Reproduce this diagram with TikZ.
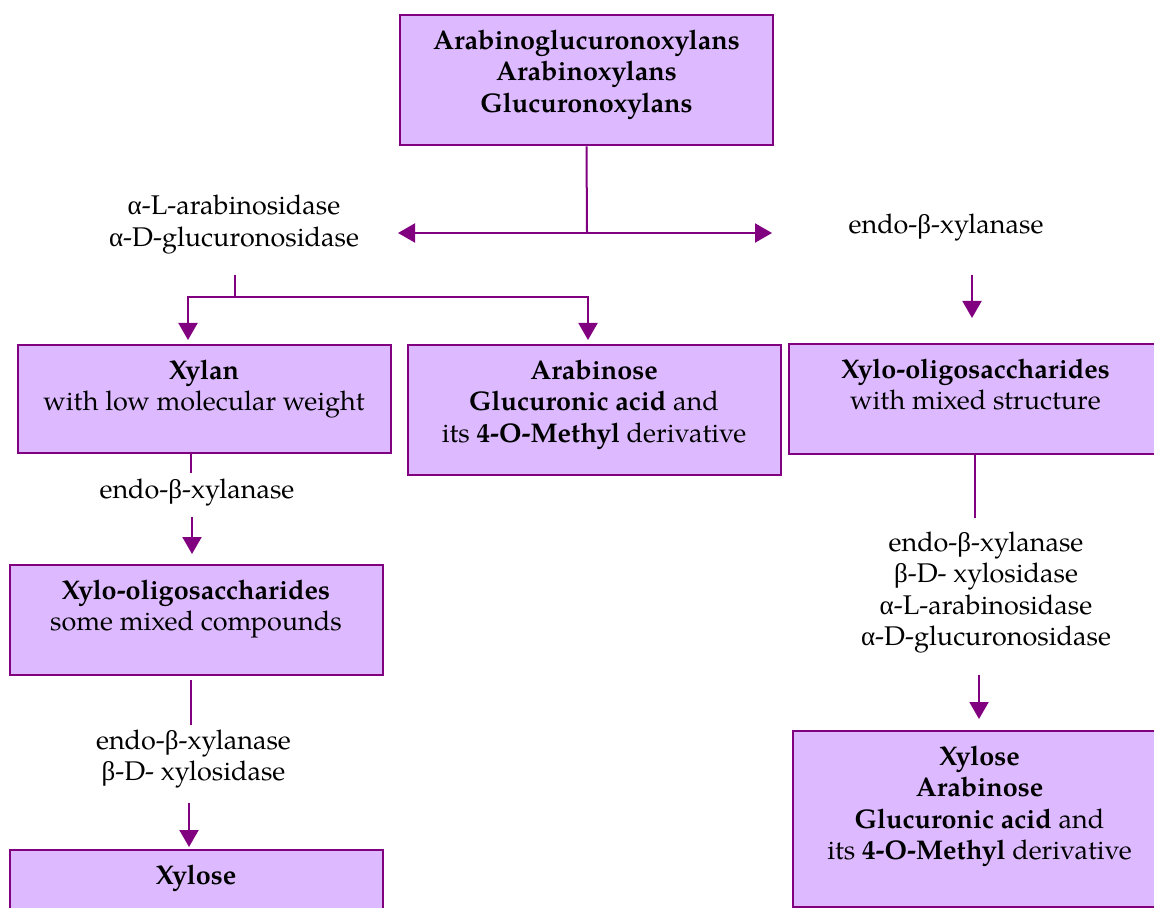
\documentclass[tikz,border=0pt]{standalone}
\usepackage{fontspec}
\setmainfont{texgyrepagella}[Extension=.otf, UprightFont=*-regular, BoldFont=*-bold, ItalicFont=*-italic, BoldItalicFont=*-bolditalic]
\newfontfamily\grk{Liberation Serif}
\usetikzlibrary{arrows.meta, positioning, calc}
\definecolor{boxlilac}{RGB}{221, 186, 255}
\definecolor{linepurple}{RGB}{128, 0, 128}
\newcommand{\ga}{{\grk α}}
\newcommand{\gb}{{\grk β}}

\begin{document}
\begin{tikzpicture}[
        x=0.5pt, y=-0.5pt,
        box/.style={rectangle, draw=linepurple, fill=boxlilac, line width=1pt, anchor=north, align=center,
            minimum width=186.5pt, inner xsep=0pt, inner ysep=7.5pt,
            font=\fontsize{13.5}{15.75}\selectfont},
        enz/.style={align=center, inner sep=0pt, font=\fontsize{13.5}{15.75}\selectfont},
        line/.style={draw=linepurple, line width=1pt},
        arrow/.style={line, -{Triangle[length=8.5pt, width=9.5pt]}}
    ]
        \clip (0,0) rectangle (1154,908);

        % Row 1: Source polymers
        \node[box, text depth=9pt, font=\fontsize{13.5}{15.75}\selectfont\bfseries] (src) at (586.5,14)
            {Arabinoglucuronoxylans\\Arabinoxylans\\Glucuronoxylans};
        \node[enz] (enzA) at (234,224.5) {\ga-L-arabinosidase\\\ga-D-glucuronosidase};
        \node[enz] (enzB) at (946,228) {endo-\gb-xylanase};

        % Row 2: First products
        \node[box, text depth=13.75pt] (xylan) at (204,344) {\textbf{Xylan}\\with low molecular weight};
        \node[box, text depth=9pt] (arab) at (594,344)
            {\textbf{Arabinose}\\\textbf{Glucuronic acid} and\\its \textbf{4-O-Methyl} derivative};
        \node[box, text depth=14.75pt] (rxylo) at (975.5,343) {\textbf{Xylo-oligosaccharides}\\with mixed structure};

        % Left column
        \node[enz] (enzC) at (197,493) {endo-\gb-xylanase};
        \node[box, text depth=14.75pt] (lxylo) at (196,564) {\textbf{Xylo-oligosaccharides}\\some mixed compounds};
        \node[enz] (enzD) at (193.5,759) {endo-\gb-xylanase\\\gb-D- xylosidase};
        \node[box, text depth=30pt] (xylose) at (196,849) {\textbf{Xylose}};

        % Right column
        \node[enz] (enzE) at (986,592.5)
            {endo-\gb-xylanase\\\gb-D- xylosidase\\\ga-L-arabinosidase\\\ga-D-glucuronosidase};
        \node[box, text depth=16.25pt] (final) at (979.5,730)
            {\textbf{Xylose}\\\textbf{Arabinose}\\\textbf{Glucuronic acid} and\\its \textbf{4-O-Methyl} derivative};

        % Free ends of the connectors
        \coordinate (splitTop) at (587,233);
        \coordinate (tipL) at (398,233);
        \coordinate (tipR) at (772,233);
        \coordinate (aTop) at (235,275);
        \coordinate (aSplit) at (235,297);
        \coordinate (bTop) at (972,275);
        \coordinate (bTip) at (972,318);
        \coordinate (cEnd) at (191,473);
        \coordinate (cTop) at (192,517);
        \coordinate (cTip) at (192,554);
        \coordinate (dTop) at (191,680);
        \coordinate (dEnd) at (191,725);
        \coordinate (dStart) at (189,803);
        \coordinate (dTip) at (189,847);
        \coordinate (eEnd) at (975,518);
        \coordinate (eTop) at (979,675);
        \coordinate (eTip) at (979,719);

        % Arrows
        \draw[line] (src.south) -- (splitTop);
        \draw[arrow] (splitTop) -- (tipL);
        \draw[arrow] (splitTop) -- (tipR);
        \draw[line] (aTop) -- (aSplit);
        \draw[arrow, shorten >=2pt] (aSplit) -| ([xshift=-8pt]xylan.north);
        \draw[arrow, shorten >=2pt] (aSplit) -| ([xshift=-3pt]arab.north);
        \draw[arrow] (bTop) -- (bTip);
        \draw[line] (xylan.south -| cEnd) -- (cEnd);
        \draw[arrow] (cTop) -- (cTip);
        \draw[line] (dTop) -- (dEnd);
        \draw[arrow] (dStart) -- (dTip);
        \draw[line] (rxylo.south -| eEnd) -- (eEnd);
        \draw[arrow] (eTop) -- (eTip);
    \end{tikzpicture}
\end{document}
